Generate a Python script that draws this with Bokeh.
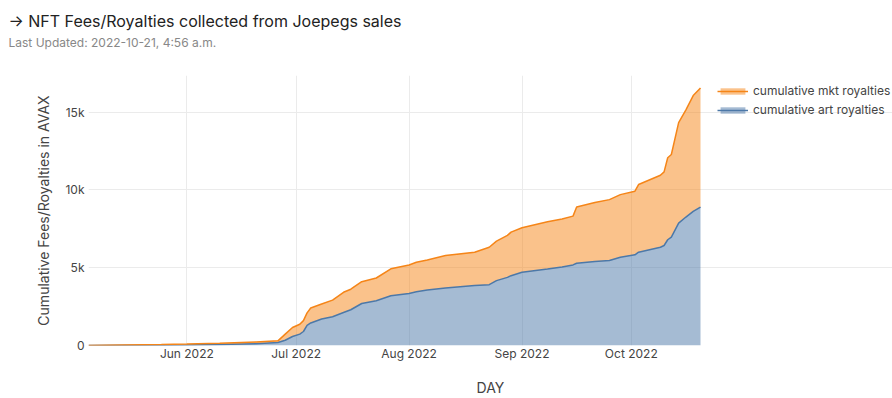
from datetime import datetime
from bokeh.plotting import figure
from bokeh.models import (ColumnDataSource, Range1d, FixedTicker, NumeralTickFormatter,
                          DatetimeTickFormatter, Legend, LegendItem, Title)
from bokeh.transform import stack
from bokeh.embed import file_html
from bokeh.resources import INLINE

# ---- data ----
days = ["2022-05-05", "2022-05-15", "2022-05-25", "2022-06-01", "2022-06-10", "2022-06-20",
        "2022-06-26", "2022-06-28", "2022-06-30", "2022-07-02", "2022-07-03", "2022-07-04",
        "2022-07-05", "2022-07-08", "2022-07-11", "2022-07-14", "2022-07-16", "2022-07-19",
        "2022-07-23", "2022-07-27", "2022-08-01", "2022-08-03", "2022-08-06", "2022-08-11",
        "2022-08-19", "2022-08-23", "2022-08-25", "2022-08-28", "2022-08-29", "2022-09-01",
        "2022-09-08", "2022-09-12", "2022-09-15", "2022-09-16", "2022-09-21", "2022-09-25",
        "2022-09-28", "2022-10-02", "2022-10-03", "2022-10-09", "2022-10-10", "2022-10-11",
        "2022-10-12", "2022-10-14", "2022-10-16", "2022-10-18", "2022-10-20"]
art_royalties = [0, 10, 20, 30, 60, 120,
                 190, 340, 580, 730, 900, 1300,
                 1450, 1700, 1850, 2120, 2300, 2700,
                 2880, 3200, 3350, 3460, 3570, 3700,
                 3850, 3910, 4170, 4380, 4490, 4710,
                 4920, 5050, 5180, 5290, 5400, 5460,
                 5670, 5830, 6000, 6320, 6430, 6800,
                 6970, 7870, 8260, 8620, 8900]
mkt_royalties = [0, 20, 40, 60, 80, 110,
                 110, 390, 580, 640, 700, 800,
                 960, 970, 1070, 1300, 1320, 1400,
                 1460, 1730, 1830, 1890, 1930, 2080,
                 2150, 2410, 2540, 2700, 2800, 2860,
                 3030, 3080, 3140, 3610, 3790, 3920,
                 4030, 4090, 4350, 4630, 4730, 5270,
                 5310, 6460, 6890, 7450, 7650]
y_ticks = [0, 5000, 10000, 15000]
x_tick_days = ["2022-06-01", "2022-07-01", "2022-08-01", "2022-09-01", "2022-10-01"]
title_text = "→ NFT Fees/Royalties collected from Joepegs sales"
subtitle_text = "Last Updated: 2022-10-21, 4:56 a.m."

BLUE = "#4C78A8"
ORANGE = "#F58518"
FONT = "Inter"

W, H = 892, 398
LEFT, DATA_W = 88, 612          # plot area: x 88..700 holds the data, legend to its right
FRAME_W = W - LEFT


def to_dt(s):
    return datetime.strptime(s, "%Y-%m-%d")


def to_ms(s):
    return to_dt(s).timestamp() * 1000


src = ColumnDataSource(dict(day=[to_dt(d) for d in days], art=art_royalties, mkt=mkt_royalties))

x0, x1 = to_ms(days[0]), to_ms(days[-1])
x_end = x0 + (x1 - x0) * FRAME_W / DATA_W   # frame runs on under the legend

p = figure(width=W, height=H, x_axis_type="datetime", output_backend="svg",
           toolbar_location=None,
           x_range=Range1d(x0, x_end),
           y_range=Range1d(0, 17360),
           min_border_left=LEFT, min_border_right=0, min_border_top=75, min_border_bottom=53)
p.title = None
p.outline_line_color = None
p.background_fill_color = "white"
p.border_fill_color = "white"

areas = p.varea_stack(["art", "mkt"], x="day", color=[BLUE, ORANGE], fill_alpha=0.5, source=src)
l_art = p.line(x="day", y=stack("art"), color=BLUE, line_width=1.5, source=src)
l_mkt = p.line(x="day", y=stack("art", "mkt"), color=ORANGE, line_width=1.5, source=src)

# axes
p.yaxis.ticker = FixedTicker(ticks=y_ticks)
p.yaxis.formatter = NumeralTickFormatter(format="0a")
p.xaxis.ticker = FixedTicker(ticks=[to_ms(d) for d in x_tick_days])
p.xaxis.formatter = DatetimeTickFormatter(months="%b %Y", days="%b %Y", hours="%b %Y")
for ax in (p.xaxis, p.yaxis):
    ax.axis_line_color = None
    ax.major_tick_line_color = None
    ax.minor_tick_line_color = None
    ax.major_tick_out = 0
    ax.major_tick_in = 0
    ax.minor_tick_out = 0
    ax.major_label_text_font = FONT
    ax.major_label_text_font_size = "12px"
    ax.major_label_text_color = "#444"
    ax.axis_label_text_font = FONT
    ax.axis_label_text_font_size = "14px"
    ax.axis_label_text_color = "#444"
    ax.axis_label_text_font_style = "normal"
    ax.axis_label_text_line_height = 1.0
p.xaxis.axis_label = "DAY"
p.yaxis.axis_label = "Cumulative Fees/Royalties in AVAX"
p.xaxis.major_label_standoff = 0
p.xaxis.axis_label_standoff = 15
p.yaxis.major_label_standoff = 4
p.yaxis.axis_label_standoff = 10

p.xgrid.grid_line_color = "#ebebeb"
p.ygrid.grid_line_color = "#ebebeb"
p.ygrid.bounds = (x0, x1)

# legend (to the right of the data, inside the frame)
legend = Legend(items=[LegendItem(label="cumulative mkt royalties", renderers=[areas[1], l_mkt]),
                       LegendItem(label="cumulative art royalties", renderers=[areas[0], l_art])],
                location=(629, 228), border_line_color=None, background_fill_alpha=0,
                label_text_font=FONT, label_text_font_size="12px", label_text_color="#444",
                glyph_width=31, glyph_height=8, label_height=15, spacing=4, margin=0, padding=0,
                label_standoff=5)
p.add_layout(legend, "center")

# titles (stacked upwards from the plot area: spacer, subtitle, title)
spacer = Title(text=" ", text_font=FONT, text_font_size="12px", standoff=8)
sub = Title(text=subtitle_text, text_font=FONT, text_font_size="12px",
            text_color="#888", text_font_style="normal",
            align="left", offset=-80, standoff=2)
main = Title(text=title_text, text_font=FONT, text_font_size="16px",
             text_color="#222", text_font_style="normal", align="left", offset=-80, standoff=2)
p.add_layout(spacer, "above")
p.add_layout(sub, "above")
p.add_layout(main, "above")

open("out.html", "w").write(file_html(p, INLINE))
